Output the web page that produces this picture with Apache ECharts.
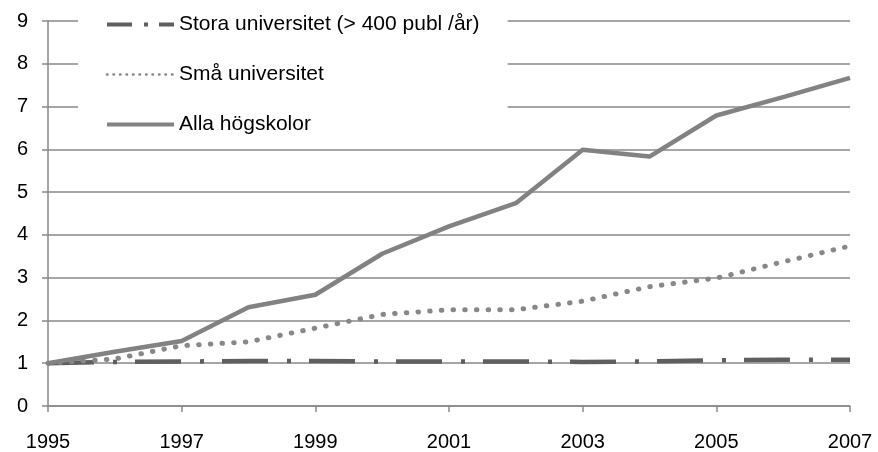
<!DOCTYPE html>
<html>
<head>
    <meta charset="utf-8">
    <title>Publiceringar per högskola</title>
    <style>
        html, body { margin: 0; padding: 0; background: #fff; }
        #main { width: 878px; height: 452px; }
    </style>
</head>
<body>
    <div id="main"></div>
    <script src="https://cdn.jsdelivr.net/npm/echarts@6/dist/echarts.min.js"></script>
    <script>
    // data
    var years = ['1995','1996','1997','1998','1999','2000','2001','2002','2003','2004','2005','2006','2007'];
    var stora = [1.0, 1.03, 1.04, 1.05, 1.05, 1.04, 1.04, 1.04, 1.03, 1.04, 1.07, 1.08, 1.08];
    var sma   = [1.0, 1.1, 1.41, 1.5, 1.82, 2.14, 2.25, 2.25, 2.45, 2.79, 2.99, 3.37, 3.74];
    var alla  = [1.0, 1.27, 1.52, 2.31, 2.6, 3.56, 4.2, 4.74, 5.99, 5.83, 6.79, 7.22, 7.67];
    var seriesNames = ['Stora universitet (> 400 publ /år)', 'Små universitet', 'Alla högskolor'];

    var font = 'Liberation Sans, Arial, sans-serif';
    var gridGrey = '#898989';

    var myChart = echarts.init(document.getElementById('main'));
    var option = {
        animation: false,
        textStyle: { fontFamily: font },
        grid: { left: 48, right: 28, top: 21, bottom: 45 },
        legend: {
            orient: 'vertical',
            left: 78,
            top: 4,
            padding: [10, 28, 10, 27],
            backgroundColor: '#fff',
            itemWidth: 67,
            itemHeight: 16,
            itemGap: 29,
            textStyle: { fontSize: 21, color: '#000', fontFamily: font },
            data: [
                { name: seriesNames[0], itemStyle: { opacity: 0 }, lineStyle: { type: [25, 12, 4, 11], width: 4, cap: 'butt' } },
                { name: seriesNames[1], itemStyle: { opacity: 0 }, lineStyle: { type: [0.5, 6], width: 2.5, cap: 'round' } },
                { name: seriesNames[2], itemStyle: { opacity: 0 }, lineStyle: { width: 4 } }
            ]
        },
        xAxis: {
            type: 'category',
            data: years,
            boundaryGap: false,
            axisLine: { lineStyle: { color: gridGrey, width: 1.5 } },
            axisTick: { interval: 1, length: 6, lineStyle: { color: gridGrey, width: 1.5 } },
            axisLabel: { interval: 1, margin: 26, fontSize: 20, color: '#000', fontFamily: font }
        },
        yAxis: {
            type: 'value',
            min: 0,
            max: 9,
            interval: 1,
            axisLine: { show: true, lineStyle: { color: gridGrey, width: 1.5 } },
            axisTick: { show: true, length: 6, lineStyle: { color: gridGrey, width: 1.5 } },
            axisLabel: { margin: 20, fontSize: 20, color: '#000', fontFamily: font },
            splitLine: { lineStyle: { color: gridGrey, width: 1.5 } }
        },
        series: [
            {
                name: seriesNames[0],
                type: 'line',
                data: stora,
                symbol: 'none',
                z: 3,
                lineStyle: { color: '#5f5f5f', width: 4.5, type: [46, 19, 4, 18], cap: 'butt' },
                itemStyle: { color: '#5f5f5f' }
            },
            {
                name: seriesNames[1],
                type: 'line',
                data: sma,
                symbol: 'none',
                lineStyle: { color: '#888', width: 5, type: [0.5, 11.2], cap: 'round' },
                itemStyle: { color: '#888' }
            },
            {
                name: seriesNames[2],
                type: 'line',
                data: alla,
                symbol: 'none',
                lineStyle: { color: '#828282', width: 4.5, join: 'round' },
                itemStyle: { color: '#828282' }
            }
        ]
    };
    myChart.setOption(option);
    </script>
</body>
</html>
